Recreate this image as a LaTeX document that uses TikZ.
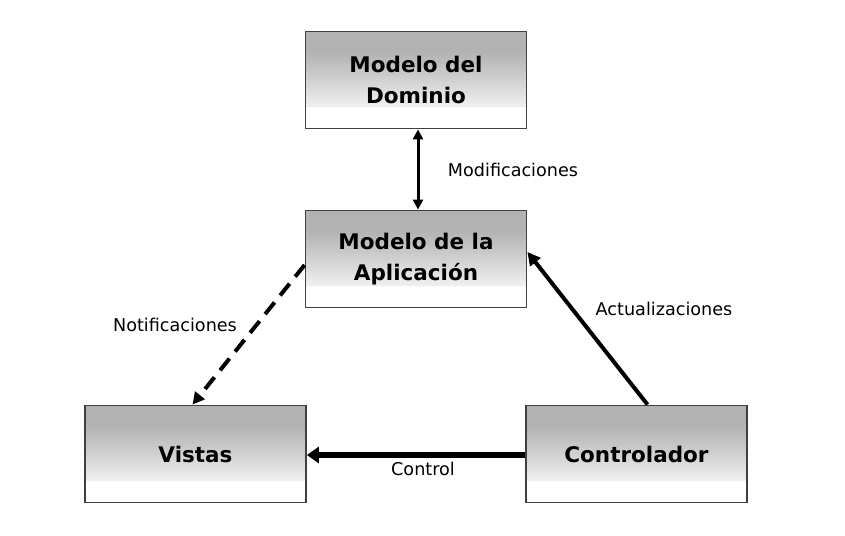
\documentclass[tikz,border=0pt]{standalone}
\usepackage{fontspec}
\setmainfont{DejaVu Sans}
\usetikzlibrary{arrows.meta}
\definecolor{gtop}{HTML}{B2B2B2}
\definecolor{gmid}{HTML}{C6C6C6}
\definecolor{glow}{HTML}{F0F0F0}
\definecolor{bord}{HTML}{404040}
\pgfdeclareverticalshading{boxshade}{100bp}{color(0bp)=(white); color(36bp)=(white); color(36.3bp)=(glow); color(55bp)=(gmid); color(65bp)=(gtop); color(100bp)=(gtop)}
\tikzset{
  box/.style={draw=bord, line width=1.8pt, shading=boxshade, minimum width=221pt, minimum height=97pt, inner sep=0pt, align=center, font=\fontsize{21.5}{31}\selectfont\bfseries},
  lbl/.style={font=\fontsize{17.6}{20}\selectfont, inner sep=0pt},
  conn/.style={line width=3.5pt, black}
}
\begin{document}
\begin{tikzpicture}[x=1pt,y=-1pt]
\useasboundingbox (0,0) rectangle (845,535);
\node[box] (dom) at (416,80) {Modelo del\\Dominio};
\node[box] (app) at (416,259) {Modelo de la\\Aplicación};
\node[box] (vis) at (195.5,454) {Vistas};
\node[box] (ctl) at (636.5,454) {Controlador};
\draw[conn, line width=3pt, {Triangle[length=10pt,width=10pt]}-{Triangle[length=10pt,width=10pt]}] ([xshift=2pt]dom.south) -- ([xshift=2pt]app.north);
\draw[conn, line width=4pt, dash pattern=on 15pt off 9pt, -{Triangle[length=12pt,width=12pt]}] ([yshift=-6pt]app.west) -- ([xshift=-3pt]vis.north);
\draw[conn, line width=4pt, -{Triangle[length=13pt,width=13pt]}] ([xshift=11pt]ctl.north) -- ([yshift=7pt]app.east);
\draw[conn, line width=6pt, -{Triangle[length=12pt,width=16pt]}] ([yshift=-1pt]ctl.west) -- ([yshift=-1pt]vis.east);
\node[lbl] (lmod) at (513,170) {Modificaciones};
\node[lbl] (lnot) at (175,325) {Notificaciones};
\node[lbl] (lact) at (664,309) {Actualizaciones};
\node[lbl] (lctl) at (423,469) {Control};
\end{tikzpicture}
\end{document}
